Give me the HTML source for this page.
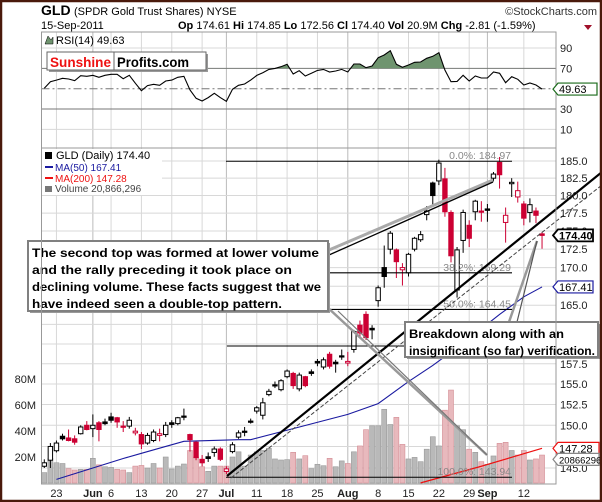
<!DOCTYPE html>
<html><head><meta charset="utf-8"><style>
html,body{margin:0;padding:0;background:#fff}
svg{display:block;font-family:"Liberation Sans",sans-serif}
</style></head><body>
<svg id="chart" width="602" height="502" viewBox="0 0 602 502">
<rect x="0" y="0" width="602" height="502" fill="#fff"/>
<g id="grid"></g>
<g id="rsi"></g>
<g id="vol"></g>
<g id="price"></g>
<g id="over"></g>
<g id="axes"></g>
<rect x="1" y="1" width="600" height="500" fill="none" stroke="#4a1a0c" stroke-width="2.5"/>
</svg>
<script>
const opens=[145.2,145.9,147.0,148.7,148.5,148.4,149.0,150.0,149.6,150.3,150.4,151.0,150.9,149.9,149.9,149.1,148.9,147.9,148.2,148.8,148.9,150.3,150.2,151.1,148.9,148.0,146.0,146.3,146.8,147.2,144.6,146.9,148.6,149.3,150.5,151.7,151.2,153.7,154.9,154.3,155.9,156.3,154.4,155.9,156.5,157.8,157.1,158.7,157.7,158.5,157.6,159.3,162.4,163.8,162.0,165.6,170.0,172.5,172.4,169.7,169.3,172.5,173.8,177.3,181.8,182.1,182.4,177.6,167.0,173.7,175.8,177.7,177.8,178.1,182.5,184.8,176.2,181.7,179.8,178.8,177.6,177.8,174.61];
const highs=[146.0,147.9,148.2,149.0,149.5,148.8,150.0,150.5,151.3,150.5,150.8,151.5,151.0,150.5,151.0,149.7,149.2,149.1,149.5,149.6,150.4,150.6,151.0,152.0,149.0,148.1,146.5,146.8,147.5,147.4,145.2,148.0,149.4,149.8,150.8,152.3,153.3,154.4,155.3,155.6,156.8,156.5,156.4,156.0,156.8,158.1,158.3,159.0,158.0,159.3,159.0,161.8,163.0,164.2,162.4,167.6,173.0,175.0,172.6,170.6,172.0,174.2,175.0,178.5,182.0,185.2,184.0,177.9,172.8,178.0,176.5,179.4,179.2,178.8,183.4,185.6,178.3,182.5,182.0,179.2,179.6,178.3,174.85];
const lows=[145.0,145.0,146.8,148.2,148.1,147.7,148.9,149.4,148.6,148.1,150.0,150.3,149.7,149.2,149.6,148.8,147.2,147.7,148.0,148.1,148.6,149.7,150.0,150.6,146.9,145.9,145.2,145.7,146.3,145.8,144.3,146.7,148.4,148.7,150.2,151.4,150.7,153.5,154.5,154.1,155.7,154.4,154.1,154.6,156.0,157.2,156.8,156.9,156.4,158.0,157.2,158.9,160.9,160.5,160.6,164.8,167.3,171.8,168.6,167.6,168.8,172.2,173.5,176.5,178.6,181.5,177.0,170.7,166.0,172.0,172.8,176.5,176.3,176.3,182.0,181.0,173.4,179.8,179.0,175.8,176.2,176.1,172.56];
const closes=[145.6,147.5,147.9,148.4,148.2,148.0,149.8,149.5,150.0,149.5,150.2,150.6,150.4,149.8,150.6,149.3,147.8,148.8,149.2,149.0,150.0,150.1,150.9,151.0,148.3,146.2,145.6,146.1,147.2,146.0,144.9,147.7,149.1,149.2,150.4,152.1,152.7,154.1,154.8,155.4,156.6,154.8,156.1,154.8,156.3,157.6,158.0,157.2,157.5,158.4,157.8,161.6,161.4,160.8,161.8,167.3,168.8,174.7,170.8,170.0,171.8,174.0,174.5,177.8,180.0,184.7,177.7,171.6,172.4,177.6,174.0,179.2,177.7,177.9,183.1,183.0,177.2,181.9,180.7,176.8,178.7,177.2,174.40];
const volumes=[8,19,15.6,15,11,10,10.5,10.5,19,14,12.5,12,10.5,10,8,13,13.5,11.5,15,11.5,20,10.8,13,14.6,25,20,12.5,9,13,13,13,20,24,13,21.5,24,25,26.7,18.5,17.7,18,23.6,18.5,21,11,14.4,13.3,19,12.5,17,15,24,28.5,41,44,44,56.7,45,50.5,29.7,18.5,19.7,16.4,26,35.6,28.5,56,71.5,44,41,26,23.6,16.4,14.4,20.8,30.5,31.3,25,21.5,25,17.7,18.5,21.5];
const rsiValues=[50.4,56.9,58.5,60.2,59.5,57.9,62.8,62.2,63.2,61.2,63.2,64.2,64.2,59.8,63.2,55.3,48.0,53,54.3,53.3,57.6,58.5,61.2,62.2,48.7,40.6,37.9,41.2,45.5,41.2,37.6,49.4,53.3,54.6,58.5,63.1,65.7,69,70,71.6,74,64.5,67.7,62.5,65.1,68,69,66.4,67.4,69,66.4,74.3,74.3,70.6,72.3,80.5,83.1,87.4,74,71,73.3,76,76.3,79.9,81.9,85.4,68.4,56.9,57.2,63.2,57.6,62.5,60.5,60.5,66.4,65.1,55.9,61.8,59.2,53.6,55.6,53.6,49.63];
const ma50Days=[2,8,13,16,20,23,32,34,41,50,55,60,64,69,75,79,82];
const ma50Values=[143.7,145.0,146.1,146.7,147.5,148.1,148.3,148.3,149.6,151.3,152.6,155.3,157.3,160.1,163.8,166.1,167.41];
const ma200Days=[62,72,82];
const ma200Values=[143.3,145.2,147.28];
const priceTicks=["185.0","182.5","180.0","177.5","175.0","172.5","170.0","167.5","165.0","162.5","160.0","157.5","155.0","152.5","150.0","147.5","145.0"];
const rsiTicks=[90,70,30,10];
const volTicks=[20,40,60,80];
const dateLabelDays=[2,8,11,16,21,26,30,35,40,45,50,55,60,65,70,73,79];
const dateLabels=["23","Jun","6","13","20","27","Jul","11","18","25","Aug","8","15","22","29","Sep","12"];
const fibLevels=[184.97,169.29,164.45,143.94];
const fibLabels=["0.0%: 184.97","38.2%: 169.29","50.0%: 164.45","100.0%: 143.94"];

const NS="http://www.w3.org/2000/svg";
const L=41.5,R=556,RT=32,RB=148,PT=148,PB=484;
function x(i){return 44.3+6.07*i;}
function yP(p){return 468-1260*Math.log(p/145);}
function yR(v){return 88.7-(v-50)*1.017;}
function yV(m){return 483-1.3*m;}
function mk(parent,tag,attrs,text){const e=document.createElementNS(NS,tag);for(const k in attrs)e.setAttribute(k,attrs[k]);if(text!==undefined)e.textContent=text;parent.appendChild(e);return e;}

const grid=document.getElementById('grid');
dateLabelDays.forEach((d,k)=>{
  const month=isNaN(+dateLabels[k]);
  const g=mk(grid,'line',{x1:x(d),x2:x(d),y1:RT,y2:PB,stroke:month?'#bbb':'#d8d8d8','stroke-width':1});
  
  
});
priceTicks.forEach(t=>{
  const g=mk(grid,'line',{x1:L,x2:R,y1:yP(+t),y2:yP(+t),stroke:'#d8d8d8'});
  
  
});
rsiTicks.forEach(t=>{
  const g=mk(grid,'line',{x1:L,x2:R,y1:yR(t),y2:yR(t),stroke:(t==70||t==30)?'#777':'#d8d8d8'});
  
  
});
const mid=mk(grid,'line',{x1:L,x2:R,y1:yR(50),y2:yR(50),stroke:'#777','stroke-dasharray':'8,3,2,3'});



const rsiG=document.getElementById('rsi');
let pts=rsiValues.map((v,i)=>x(i).toFixed(1)+','+yR(v).toFixed(1));
const defs=mk(rsiG,'defs',{});
const cp=mk(defs,'clipPath',{id:'above70'});
mk(cp,'rect',{x:L,y:RT,width:R-L,height:yR(70)-RT});
const cpP=mk(defs,'clipPath',{id:'pclip'});
mk(cpP,'rect',{x:L,y:PT,width:R-L,height:PB-PT});
const area=mk(rsiG,'polygon',{points:x(0)+','+yR(70)+' '+pts.join(' ')+' '+x(rsiValues.length-1)+','+yR(70),fill:'#6f946f','clip-path':'url(#above70)'});


const rl=mk(rsiG,'polyline',{points:pts.join(' '),fill:'none',stroke:'#000','stroke-width':1.1});



const volG=document.getElementById('vol');
volumes.forEach((v,i)=>{
  const down=i>0&&closes[i]<closes[i-1];
  const b=mk(volG,'rect',{x:x(i)-2.5,y:yV(v),width:5,height:yV(0)-yV(v),fill:down?'#e8b9bd':'#b9b9b9',stroke:down?'#d48d95':'#9a9a9a','stroke-width':0.6});
  
  
});

const pG=document.getElementById('price');
const ma50=mk(pG,'polyline',{points:ma50Days.map((d,k)=>x(d)+','+yP(ma50Values[k])).join(' '),fill:'none',stroke:'#1a1aa0','stroke-width':1.1,'clip-path':'url(#pclip)'});


const ma200=mk(pG,'polyline',{points:ma200Days.map((d,k)=>x(d)+','+yP(ma200Values[k])).join(' '),fill:'none',stroke:'#ee1111','stroke-width':1.2,'clip-path':'url(#pclip)'});


closes.forEach((c,i)=>{
  const o=opens[i];
  const red=i>0&&c<closes[i-1];
  const col=red?'#cc0033':'#000';
  const g=mk(pG,'g',{});
  
  
  mk(g,'line',{x1:x(i),x2:x(i),y1:yP(highs[i]),y2:yP(lows[i]),stroke:col,'stroke-width':1});
  const top=yP(Math.max(o,c)),bot=yP(Math.min(o,c));
  mk(g,'rect',{x:x(i)-2.2,y:top,width:4.4,height:Math.max(1.2,bot-top),fill:c>=o?'#fff':col,stroke:col,'stroke-width':1});
});

const ov=document.getElementById('over');
fibLevels.forEach((f,k)=>{
  const ln=mk(ov,'line',{x1:226,x2:512,y1:yP(f),y2:yP(f),stroke:'#000','stroke-width':1.1});
  
  
  const t=mk(ov,'text',{x:511,y:yP(f)-2,'text-anchor':'end','font-size':10.5,fill:'#888'},fibLabels[k]);
  
  
});
const hl=mk(ov,'line',{x1:227,x2:406,y1:346,y2:346,stroke:'#000','stroke-width':1.1});


const tl=mk(ov,'line',{x1:227,y1:476,x2:602,y2:172,stroke:'#000','stroke-width':2.2});


const tl2=mk(ov,'line',{x1:231,y1:478,x2:602,y2:185,stroke:'#444','stroke-width':1,'stroke-dasharray':'4,2'});


[[329,250,493,180,'#aaa',3],[329,255,493,182,'#000',1.3],[326,306,487,455,'#999',2.5],[338,311,487,455,'#777',1.2],[509,322,537,241,'#999',2.5],[517,322,537,241,'#555',1.2]].forEach(p=>{
  const l=mk(ov,'line',{x1:p[0],y1:p[1],x2:p[2],y2:p[3],stroke:p[4],'stroke-width':p[5]});
  
  
});
function box(xx,yy,w,h,lines,lens,name){
  const g=mk(ov,'g',{});
  
  
  mk(g,'rect',{x:xx+2,y:yy+2,width:w,height:h,fill:'#999'});
  mk(g,'rect',{x:xx,y:yy,width:w,height:h,fill:'#fff',stroke:'#808080','stroke-width':2});
  lines.forEach((s,k)=>mk(g,'text',{x:xx+4,y:yy+16+k*17,'font-size':12.3,'font-weight':'bold',fill:'#000',textLength:lens[k],lengthAdjust:'spacingAndGlyphs'},s));
}
box(28,241,300,70,["The second top was formed at lower volume","and the rally preceding it took place on","declining volume. These facts suggest that we","have indeed seen a double-top pattern."],[287,260,289,250],'callout-double-top');
box(405,322,193,35,["Breakdown along with an","insignificant (so far) verification."],[155,186],'callout-breakdown');

const ax=document.getElementById('axes');
function lab(parent,txt,attrs,name){const t=mk(parent,'text',attrs,txt);return t;}
mk(ax,'rect',{x:L,y:RT,width:R-L,height:PB-RT,fill:'none',stroke:'#999'});
mk(ax,'line',{x1:L,x2:R,y1:PT,y2:PT,stroke:'#999'});
priceTicks.forEach(t=>{const yy=yP(+t);if(yy>322&&yy<360)return;lab(ax,t,{x:560,y:yy+4,'font-size':11,fill:'#222'},'price-tick-label');});
rsiTicks.forEach(t=>lab(ax,String(t),{x:560,y:yR(t)+4,'font-size':11,fill:'#222'},'rsi-tick-label'));
volTicks.forEach(t=>lab(ax,t+'M',{x:36,y:yV(t)+4,'text-anchor':'end','font-size':11,fill:'#222'},'volume-tick-label'));
dateLabelDays.forEach((d,k)=>{const month=isNaN(+dateLabels[k]);lab(ax,dateLabels[k],{x:x(d),y:497,'text-anchor':'middle','font-size':11,'font-weight':month?'bold':'normal',fill:'#222'},'x-tick-label');});
function tag(yy,txt,col,w,name,bold,fs){
  const g=mk(ax,'g',{});
  mk(g,'polygon',{points:`${553},${yy} ${558},${yy-6} ${553+w},${yy-6} ${553+w},${yy+6} ${558},${yy+6}`,fill:'#fff',stroke:col,'stroke-width':bold?1.8:1.2});
  mk(g,'text',{x:559,y:yy+4,'font-size':fs||11,'font-weight':bold?'bold':'normal',fill:'#000'},txt);
}
tag(yR(49.63),'49.63','#1a6a1a',44,'rsi-value-tag',false);
tag(yP(174.40),'174.40','#000',40,'price-value-tag',true);
tag(yP(167.41),'167.41','#1a1aa0',40,'ma50-value-tag',false);
tag(yP(147.28),'147.28','#ee1111',46,'ma200-value-tag',false);
tag(yP(147.28)+11,'20866296','#888',46,'volume-value-tag',false,9.5);
lab(ax,'GLD',{x:41,y:15,'font-size':14,'font-weight':'bold',fill:'#000'},'ticker-title');
lab(ax,'(SPDR Gold Trust Shares) NYSE',{x:74,y:15,'font-size':11,fill:'#000'},'ticker-subtitle');
lab(ax,'©StockCharts.com',{x:597,y:15,'text-anchor':'end','font-size':11,fill:'#333'},'credit');
lab(ax,'15-Sep-2011',{x:41,y:29,'font-size':11,fill:'#000'},'date-label');
const q=mk(ax,'text',{x:178,y:29,'font-size':11,fill:'#000'});

[['Op',' 174.61  '],['Hi',' 174.85  '],['Lo',' 172.56  '],['Cl',' 174.40  '],['Vol',' 20.9M  '],['Chg',' -2.81 (-1.59%)']].forEach(p=>{mk(q,'tspan',{'font-weight':'bold'},p[0]);mk(q,'tspan',{'xml:space':'preserve'},p[1]);});
mk(ax,'polygon',{points:'584,25 592,25 588,30',fill:'#a0102a'});
mk(ax,'polygon',{points:'45,44 48,36 51,40 53,37 53,44',fill:'#6f946f',stroke:'#000','stroke-width':0.5});
lab(ax,'RSI(14) 49.63',{x:56,y:44,'font-size':11,fill:'#000'},'rsi-legend');
const lg=mk(ax,'g',{});
mk(lg,'rect',{x:49,y:54,width:159,height:18,fill:'#999'});
mk(lg,'rect',{x:47,y:52,width:159,height:18,fill:'#fff',stroke:'#666'});
mk(lg,'line',{x1:114,x2:114,y1:52,y2:70,stroke:'#666'});
mk(lg,'text',{x:50,y:67,'font-size':14,'font-weight':'bold',fill:'#ee1111',textLength:61,lengthAdjust:'spacingAndGlyphs'},'Sunshine');
mk(lg,'text',{x:117,y:67,'font-size':14,'font-weight':'bold',fill:'#000',textLength:72,lengthAdjust:'spacingAndGlyphs'},'Profits.com');
const pl=mk(ax,'g',{'font-size':10});
mk(pl,'rect',{x:42,y:149,width:120,height:46,fill:'#fff'});
mk(pl,'text',{x:56,y:159,fill:'#000','font-size':11},'GLD (Daily) 174.40');
mk(pl,'rect',{x:45,y:152,width:7,height:7,fill:'#000'});
mk(pl,'line',{x1:45,x2:53,y1:167,y2:167,stroke:'#1a1aa0','stroke-width':2});
mk(pl,'text',{x:55,y:171,fill:'#1a1aa0'},'MA(50) 167.41');
mk(pl,'line',{x1:45,x2:53,y1:178,y2:178,stroke:'#ee1111','stroke-width':2});
mk(pl,'text',{x:55,y:182,fill:'#ee1111'},'MA(200) 147.28');
mk(pl,'rect',{x:45,y:186,width:7,height:6,fill:'#777'});
mk(pl,'text',{x:55,y:192,fill:'#444'},'Volume 20,866,296');
</script>
</body></html>
